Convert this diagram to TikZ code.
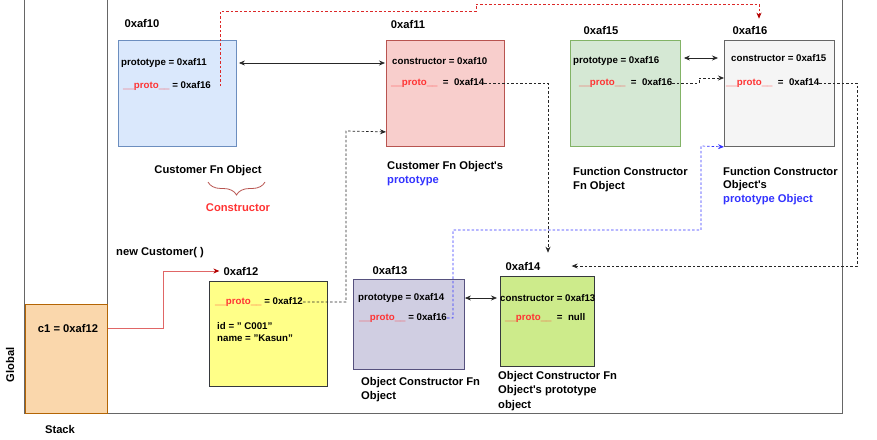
\documentclass[tikz,border=0pt]{standalone}
\usepackage{fontspec}
\setmainfont{Liberation Sans}
\usetikzlibrary{
positioning,
arrows.meta,
decorations.pathreplacing,
}
\definecolor{protored}{HTML}{FF3333}
\definecolor{protoblue}{HTML}{3333FF}
\definecolor{c1line}{HTML}{E06666}
\definecolor{darkred}{HTML}{B20000}
\tikzset{
every node/.style={align=left, inner sep=0pt},
heapobj/.style={rectangle, anchor=north west, line width=0.9pt},
field/.style={anchor=west, font=\fontsize{9.7}{12}\selectfont\bfseries},
address/.style={font=\fontsize{11.2}{14}\selectfont\bfseries},
caption/.style={address, anchor=north west},
frame/.style={draw=black!60, line width=1.2pt},
link/.style={draw=black!85, line width=0.7pt},
dotlink/.style={link, dash pattern=on 2.5pt off 2pt},
>={Stealth[length=6pt,width=5pt]},
}
\newcommand{\proto}{\textcolor{protored}{\_\_proto\_\_}}
\begin{document}
\begin{tikzpicture}[x=1pt, y=-1pt]
\useasboundingbox (0,0) rectangle (877,439);
% stack and heap
\node (st) [frame, heapobj, minimum width=83pt, minimum height=433pt] at (24,-20) {};
\node (hp) [frame, heapobj, minimum width=735pt, minimum height=433pt] at (107,-20) {};
\node (c1box) [heapobj, fill={rgb,255:red,250;green,215;blue,172}, draw={rgb,255:red,180;green,101;blue,4}, minimum width=82pt, minimum height=109pt] at (25,304) {};
\node (c1) [address] at (68,328) {c1 = 0xaf12};
\node (glob) [address, rotate=90] at (10,365) {Global};
\node (stk) [address] at (60,429) {Stack};

% heap objects
\node (o10) [heapobj, fill={rgb,255:red,218;green,232;blue,252}, draw={rgb,255:red,108;green,142;blue,191}, minimum width=118pt, minimum height=106pt] at (118,40) {};
\node (o11) [heapobj, fill={rgb,255:red,248;green,206;blue,204}, draw={rgb,255:red,184;green,84;blue,80}, minimum width=118pt, minimum height=106pt] at (386,40) {};
\node (o15) [heapobj, fill={rgb,255:red,213;green,232;blue,212}, draw={rgb,255:red,130;green,179;blue,102}, minimum width=110pt, minimum height=106pt] at (570,40) {};
\node (o16) [heapobj, fill={rgb,255:red,245;green,245;blue,245}, draw={rgb,255:red,102;green,102;blue,102}, minimum width=110pt, minimum height=106pt] at (724,40) {};
\node (o12) [heapobj, fill={rgb,255:red,255;green,255;blue,136}, draw={rgb,255:red,54;green,57;blue,61}, minimum width=118pt, minimum height=105pt] at (209,281) {};
\node (o13) [heapobj, fill={rgb,255:red,208;green,206;blue,226}, draw={rgb,255:red,86;green,81;blue,126}, minimum width=111pt, minimum height=90pt] at (353,279) {};
\node (o14) [heapobj, fill={rgb,255:red,205;green,235;blue,139}, draw={rgb,255:red,54;green,57;blue,61}, minimum width=94pt, minimum height=90pt] at (500,276) {};

% addresses
\node (a10) [address] at (142,23) {0xaf10};
\node (a11) [address] at (408,24) {0xaf11};
\node (a15) [address] at (601,30) {0xaf15};
\node (a16) [address] at (750,30) {0xaf16};
\node (a12) [address] at (241,271) {0xaf12};
\node (a13) [address] at (390,271) {0xaf13};
\node (a14) [address] at (523,266) {0xaf14};

% fields
\node (o10a) [field] at (121,63) {prototype = 0xaf11};
\node (o10p) [field] at (123,86) {\proto\ = 0xaf16};
\node (o11a) [field] at (392,61) {constructor = 0xaf10};
\node (o11p) [field] at (391,83) {\proto\ \ = \ 0xaf14};
\node (o15a) [field] at (573,61) {prototype = 0xaf16};
\node (o15p) [field] at (579,83) {\proto\ \ = \ 0xaf16};
\node (o16a) [field] at (731,58) {constructor = 0xaf15};
\node (o16p) [field] at (726,83) {\proto\ \ = \ 0xaf14};
\node (o12p) [field] at (215,302) {\proto\ = 0xaf12};
\node (o12a) [field, anchor=north west] at (217,322) {id = " C001"\\name = "Kasun"};
\node (o13a) [field] at (358,298) {prototype = 0xaf14};
\node (o13p) [field] at (359,318) {\proto\ = 0xaf16};
\node (o14a) [field] at (500,298) {constructor = 0xaf13};
\node (o14p) [field] at (505,318) {\proto\ \ = \ null};

% captions
\node (t10) [address] at (208,171) {Customer Fn Object};
\draw [decorate, decoration={brace, mirror, amplitude=13pt}, draw={rgb,255:red,184;green,84;blue,80}, line width=0.8pt] (208,182) -- (265,182);
\coordinate (brc) at (238,196);
\node (ctor) [address, text=protored, below=7pt of brc] {Constructor};
\node (t11) [caption] at (387,161) {Customer Fn Object\textquotesingle s\\\textcolor{protoblue}{prototype}};
\node (t15) [caption] at (573,167) {Function Constructor\\Fn Object};
\node (t16) [caption, font=\fontsize{11.2}{13.5}\selectfont\bfseries] at (723,167) {Function Constructor\\Object\textquotesingle s\\\textcolor{protoblue}{prototype Object}};
\node (t13) [caption] at (361,377) {Object Constructor Fn\\Object};
\node (t14) [caption, font=\fontsize{11.2}{14.5}\selectfont\bfseries] at (498,371) {Object Constructor Fn\\Object\textquotesingle s prototype\\object};
\node (newc) [address, anchor=west] at (116,253) {new Customer( )};

% links
\draw [draw=c1line, line width=0.9pt, -{Stealth[length=6pt,width=5pt,color=darkred]}] (c1 -| st.east) -| (163,271) -- ([xshift=-4pt]a12.west);
\draw [link, <->, shorten <=2pt, shorten >=1pt] (o10a -| o10.east) -- (o10a -| o11.west);
\draw [link, <->, shorten <=3pt, shorten >=6pt] (o16a -| o15.east) -- (o16a -| o16.west);
\draw [link, <->, shorten >=3pt] (o13a -| o13.east) -- (o13a -| o14.west);
\draw [dotlink, draw={rgb,255:red,220;green,40;blue,40}, -{Stealth[length=6pt,width=5pt,color=darkred]}] ([xshift=9pt]o10p.east) |- (476,11) -- (476,4) -| ([xshift=9pt,yshift=7pt]a16.north);
\draw [dotlink, ->] (o11p.east) -| ([xshift=25pt,yshift=9pt]a14.north);
\draw [dotlink, ->] (o12p.east) -| (346,131) -- ([yshift=15pt]o11.south west);
\draw [dotlink, ->] (o15p.east) -| (699,78) -- ([yshift=-38pt]o16.north west);
\draw [dotlink, ->] (o16p.east) -| (857,266) -- ([xshift=31pt]a14.east);
\draw [dotlink, draw=protoblue, -{Stealth[length=6pt,width=5pt,color=protoblue]}] (o13p.east) -| (453,230) -| (701,146) -- (o16.south west);
\end{tikzpicture}
\end{document}
